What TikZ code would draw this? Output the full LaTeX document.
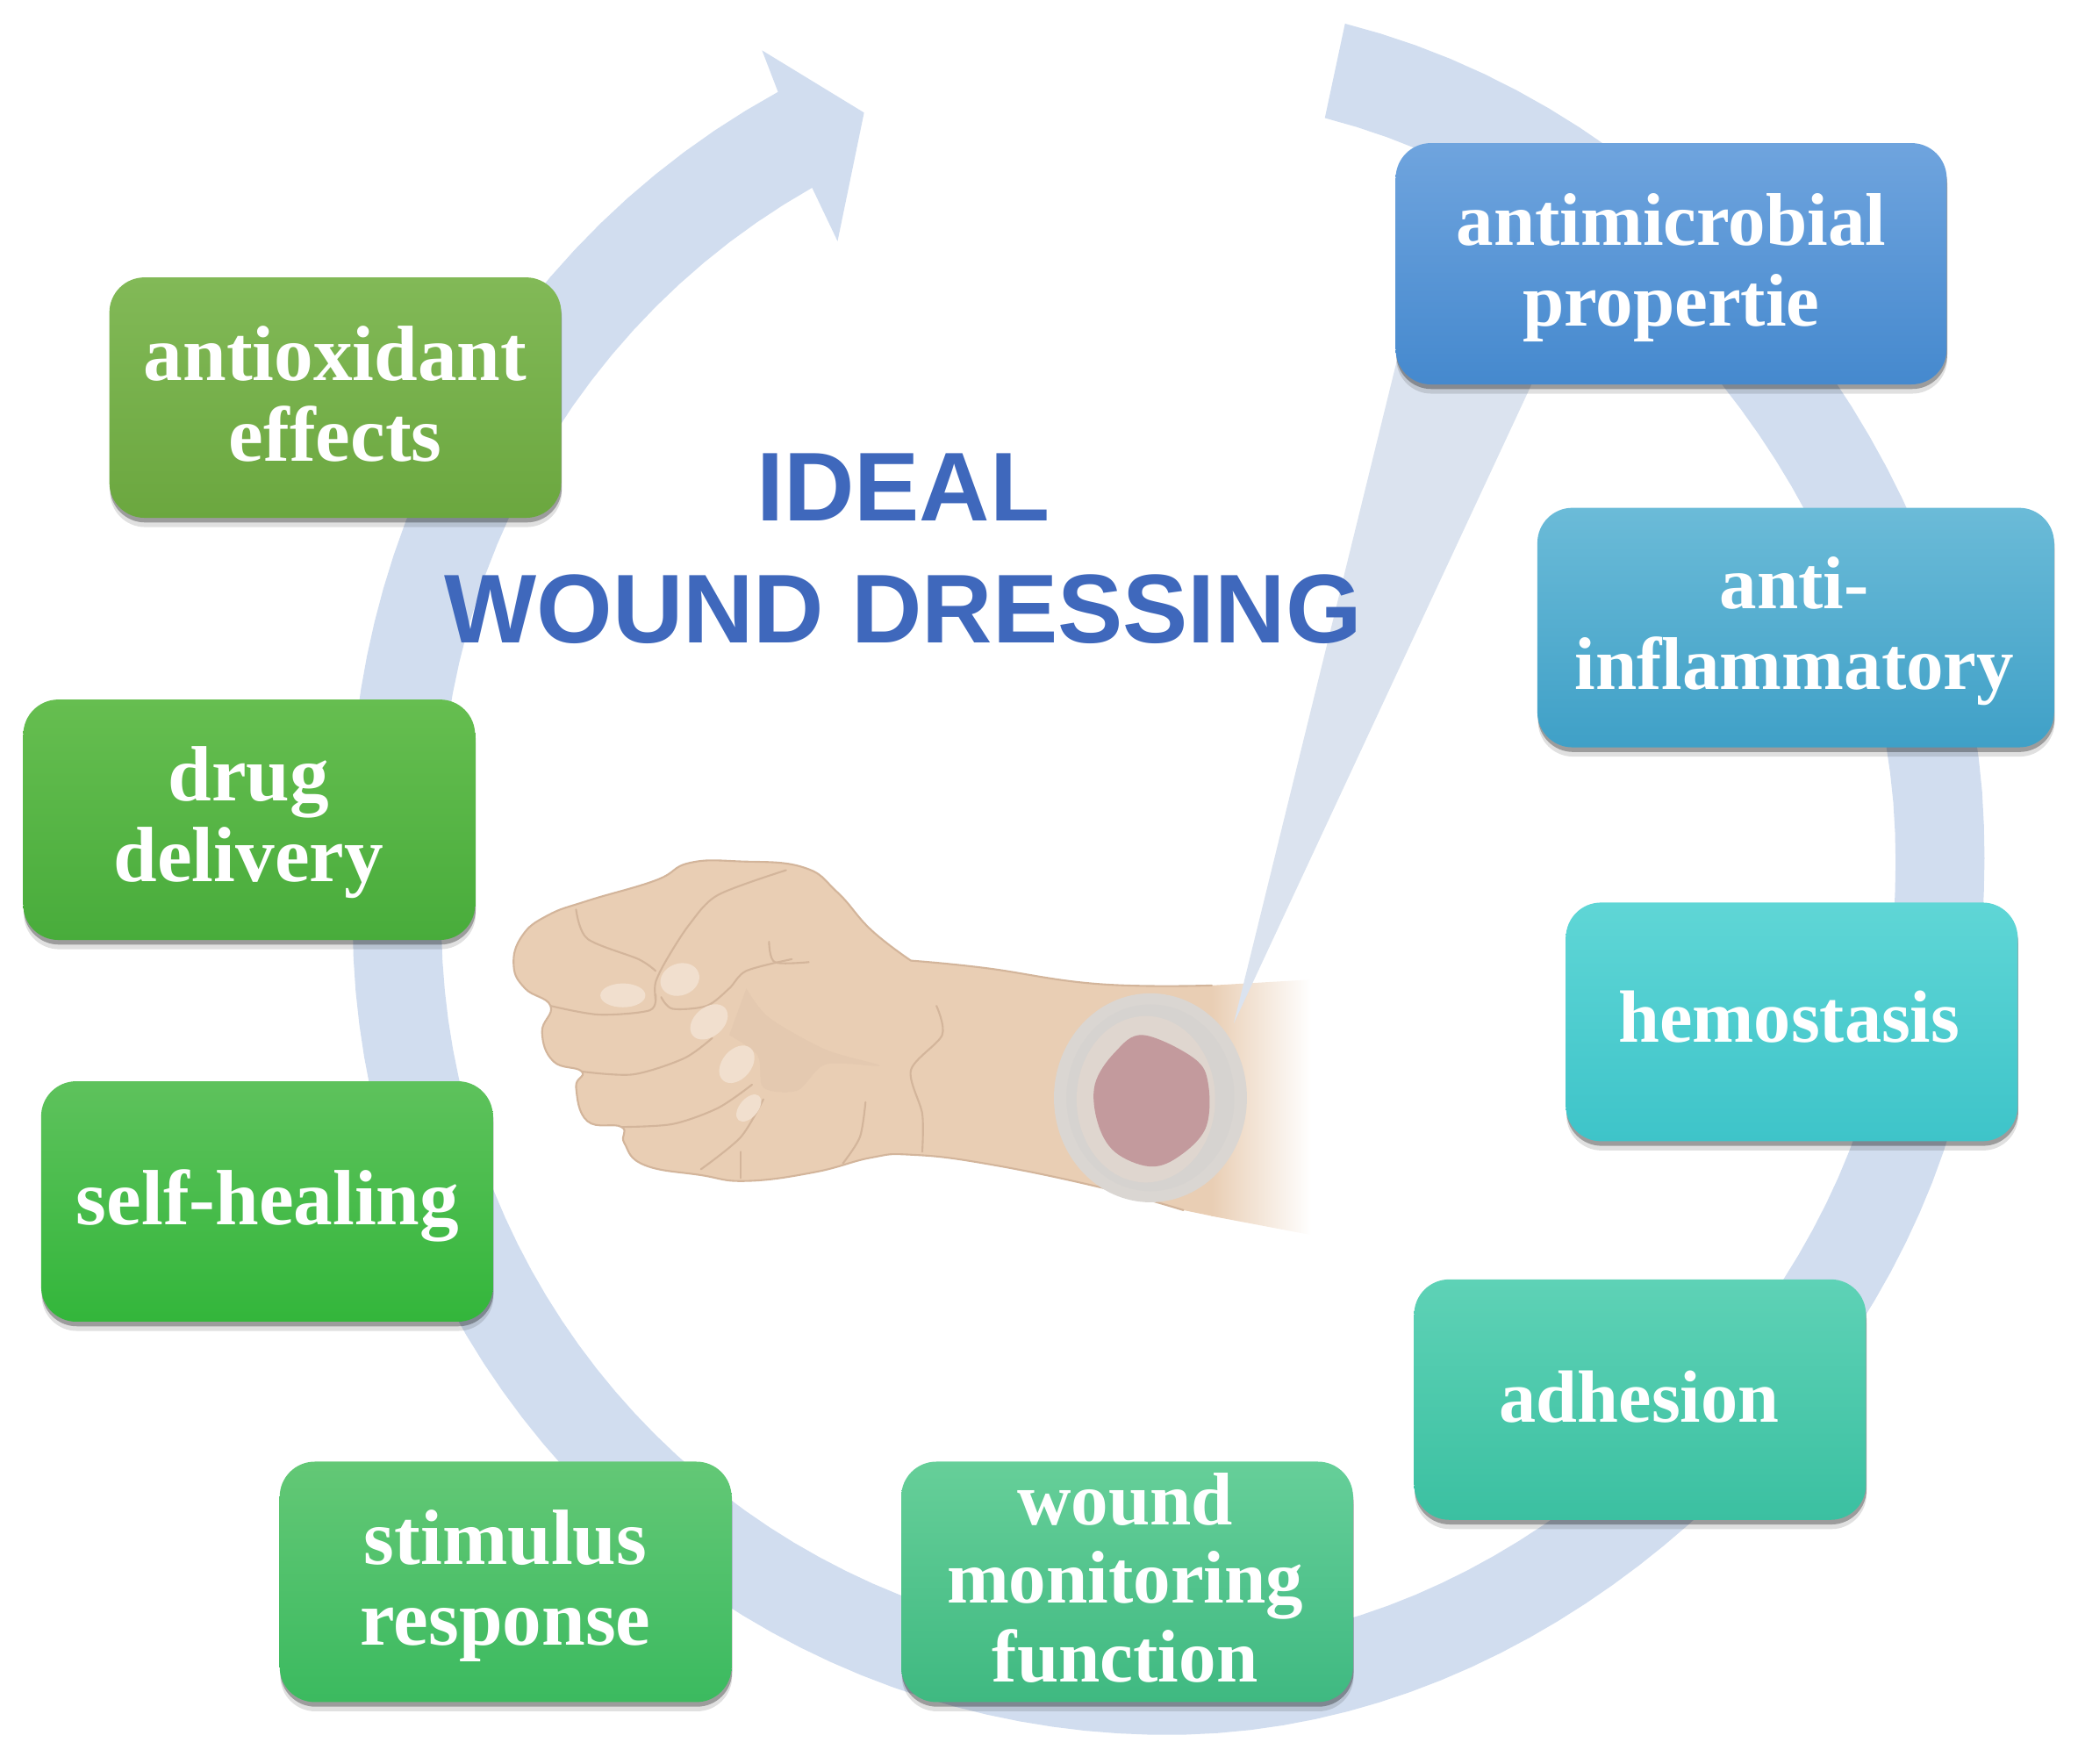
\documentclass[tikz,border=0pt]{standalone}
\usepackage{fontspec}
\setmainfont{Liberation Serif}
\newfontfamily\titlefont{Liberation Sans}
\usetikzlibrary{shadows}
\definecolor{ringc}{HTML}{D1DDEF}
\definecolor{wedgec}{HTML}{DBE3EF}
\definecolor{skin}{HTML}{E9CEB4}
\definecolor{skinline}{HTML}{D3B59B}
\definecolor{skindark}{HTML}{E4C9B0}
\definecolor{nailc}{HTML}{F1DFCE}
\definecolor{titlec}{HTML}{3F68BC}
\definecolor{dressout}{HTML}{DAD6D2}
\definecolor{dressmid}{HTML}{D6D3D0}
\definecolor{dressin}{HTML}{DFD6CF}
\definecolor{woundc}{HTML}{C39A9D}
\definecolor{aT}{HTML}{6FA4DE}\definecolor{aB}{HTML}{4589CE}
\definecolor{bT}{HTML}{6BBBD8}\definecolor{bB}{HTML}{3FA0C7}
\definecolor{cT}{HTML}{5FD6D6}\definecolor{cB}{HTML}{3EC4C9}
\definecolor{dT}{HTML}{5ED2B6}\definecolor{dB}{HTML}{3BC0A1}
\definecolor{eT}{HTML}{66CF99}\definecolor{eB}{HTML}{3FB981}
\definecolor{fT}{HTML}{63C876}\definecolor{fB}{HTML}{3BBA5F}
\definecolor{gT}{HTML}{5EC25C}\definecolor{gB}{HTML}{33B63B}
\definecolor{hT}{HTML}{66BE50}\definecolor{hB}{HTML}{48AC3B}
\definecolor{iT}{HTML}{82B957}\definecolor{iB}{HTML}{6BA73F}
\tikzset{
  declare function={
    upperpart(\t)=max(0.0001,-sin(\t))^1.2;
    rightdent(\t)=(cos(\t)>=0)*13*sin(2*\t)*sin(2*\t);
    outerR(\t)=615+upperpart(\t)*((cos(\t)<0)*85+(cos(\t)>=0)*78)-rightdent(\t);
    innerR(\t)=548+upperpart(\t)*((cos(\t)<0)*75+(cos(\t)>=0)*72)-rightdent(\t);
  },
  wbox/.style 2 args={rounded corners=0.40cm, top color=#1, bottom color=#2,
    draw=none, inner sep=0pt,
    drop shadow={shadow xshift=0.2pt,shadow yshift=-3pt,opacity=.12,fill=black},
    drop shadow={shadow xshift=0.2pt,shadow yshift=-1.5pt,opacity=.3,fill=black}},
  wsize/.style={minimum width=5.15cm,minimum height=2.74cm},
  wtext/.style={text=white,align=center,inner sep=0pt,font=\fontsize{#1}{26.2}\selectfont\bfseries},
  wtext/.default=24.2,
  crease/.style={draw=skinline,line width=0.6pt,line cap=round,line join=round},
  nail/.style={fill=nailc,draw=none},
  zoomed/.style={shift={(357.6,609.2)},x=0.006473cm,y=-0.003334cm},
}
\begin{document}
\begin{tikzpicture}[x=0.015102cm,y=-0.015102cm]
\useasboundingbox (0,0) rectangle (1568,1330.3);
% ring arrow
\fill[ringc] plot[domain=244.8:-78.8,samples=140,variable=\t] ({881+outerR(\t)*cos(\t)},{694+outerR(\t)*sin(\t)})
 -- plot[domain=-78.9:244.1,samples=140,variable=\t] ({881+innerR(\t)*cos(\t)},{694+innerR(\t)*sin(\t)})
 -- (632,182) -- (652,85) -- (575,38) -- cycle;
% arm and hand (coordinates taken from a magnified crop)
\begin{scope}[zoomed]
  \shade[left color=skin,right color=white,draw=none] (1299,610) -- (1475,590) -- (1475,1465) -- (1299,1400) -- cycle;
  \fill[skin] plot[smooth,tension=.75] coordinates {(770,525)(900,550)(1100,605)(1300,610)}
    -- (1300,1400)
    -- plot[smooth,tension=.75] coordinates {(1250,1380)(1100,1300)(900,1220)(770,1190)(700,1200)(600,1250)(480,1280)(400,1260)(300,1225)(265,1150)(260,1095)(200,1075)(180,960)(190,905)(140,870)(120,770)(135,680)(90,620)(70,540)(85,440)(130,370)(200,320)(320,250)(380,190)(470,185)(580,205)(640,290)(700,420)(770,525)} -- cycle;
  \draw[crease] plot[smooth,tension=.75] coordinates {(770,525)(900,550)(1100,605)(1300,610)};
  \draw[crease] plot[smooth,tension=.75] coordinates {(1250,1380)(1100,1300)(900,1220)(770,1190)(700,1200)(600,1250)(480,1280)(400,1260)(300,1225)(265,1150)(260,1095)(200,1075)(180,960)(190,905)(140,870)(120,770)(135,680)(90,620)(70,540)(85,440)(130,370)(200,320)(320,250)(380,190)(470,185)(580,205)(640,290)(700,420)(770,525)};
  \fill[skindark] plot[smooth,tension=.5] coordinates {(480,620)(520,720)(620,830)(715,885)(620,880)(570,970)(510,960)(500,850)(450,780)} -- cycle;
  \draw[crease] plot[smooth] coordinates {(180,350)(200,450)(290,520)(320,560)};
  \draw[crease] plot[smooth] coordinates {(550,215)(430,300)(380,400)(340,520)(320,600)(320,660)};
  \draw[crease] plot[smooth] coordinates {(135,680)(220,710)(310,695)(320,640)};
  \draw[crease] plot[smooth] coordinates {(330,650)(350,690)(410,680)(450,620)(480,560)(560,520)};
  \draw[crease] plot[smooth] coordinates {(190,905)(280,915)(370,860)(420,790)};
  \draw[crease] plot[smooth] coordinates {(260,1095)(350,1085)(430,1030)(490,950)};
  \draw[crease] plot[smooth] coordinates {(400,1240)(470,1130)(510,1000)};
  \draw[crease] plot[smooth] coordinates {(470,1270)(470,1180)};
  \draw[crease] plot[smooth] coordinates {(815,680)(825,780)(770,900)(790,1050)(790,1180)};
  \draw[crease] plot[smooth] coordinates {(690,1010)(680,1130)(650,1220)};
  \draw[crease] plot[smooth] coordinates {(520,460)(530,530)(590,530)};
\end{scope}
\fill[nail] (470,751) ellipse [x radius=17,y radius=9];
\fill[nail,rotate around={20:(513,739)}] (513,739) ellipse [x radius=15,y radius=12];
\fill[nail,rotate around={40:(535,771)}] (535,771) ellipse [x radius=16,y radius=11];
\fill[nail,rotate around={50:(556,803)}] (556,803) ellipse [x radius=16,y radius=11];
\fill[nail,rotate around={50:(565,836)}] (565,836) ellipse [x radius=12,y radius=7];
% wedge from the dressing to the first box
\fill[wedgec] (931,772) -- (1057,260) -- (1158,285) -- cycle;
% dressing
\begin{scope}[zoomed]
  \fill[dressout] (1192,995) ellipse [x radius=170,y radius=358];
  \fill[dressmid] (1192,995) ellipse [x radius=148,y radius=320];
  \fill[dressin] (1184,1000) ellipse [x radius=122,y radius=285];
  \fill[woundc] plot[smooth cycle,tension=.6] coordinates {(1179,780)(1269,860)(1294,950)(1289,1100)(1239,1200)(1189,1230)(1129,1180)(1099,1080)(1094,950)(1129,840)};
\end{scope}
% title
\node[text=titlec,align=center,font=\titlefont\fontsize{31.7}{39.8}\selectfont\bfseries] (title) at (681.5,414) {IDEAL\\WOUND DRESSING};
% property boxes
\node[wbox={aT}{aB},minimum width=6.28cm,minimum height=2.75cm] (antimicrobial) at (1261,199) {};
\node[wbox={bT}{bB},minimum width=5.89cm,minimum height=2.73cm] (antiinflammatory) at (1355,473.5) {};
\node[wbox={cT}{cB},wsize,minimum height=2.72cm] (hemostasis) at (1352,771) {};
\node[wbox={dT}{dB},wsize] (adhesion) at (1237.5,1056) {};
\node[wbox={eT}{eB},wsize] (monitoring) at (850.5,1193.5) {};
\node[wbox={fT}{fB},wsize] (stimulus) at (381.5,1193.5) {};
\node[wbox={gT}{gB},wsize] (selfhealing) at (201.5,906.5) {};
\node[wbox={hT}{hB},wsize] (drug) at (188,618.5) {};
\node[wbox={iT}{iB},wsize] (antioxidant) at (253,300) {};
% box texts
\node[wtext] (t1) at (1261,202) {antimicrobial\\propertie};
\node[wtext] (t2) at (1354,476.5) {anti-\\inflammatory};
\node[wtext=24] (t3) at (1350,767) {hemostasis};
\node[wtext=24] (t4) at (1237,1054) {adhesion};
\node[font=\fontsize{24.2}{25.4}\selectfont\bfseries,text=white,align=center,inner sep=0pt] (t5) at (849,1190.5) {wound\\monitoring\\function};
\node[wtext=25.4] (t6) at (381.5,1196.5) {stimulus\\response};
\node[wtext=25.4] (t7) at (202,909.5) {self-healing};
\node[wtext=25.4] (t8) at (187.5,620.5) {drug\\delivery};
\node[wtext=25.4] (t9) at (253,297) {antioxidant\\effects};
\end{tikzpicture}
\end{document}
